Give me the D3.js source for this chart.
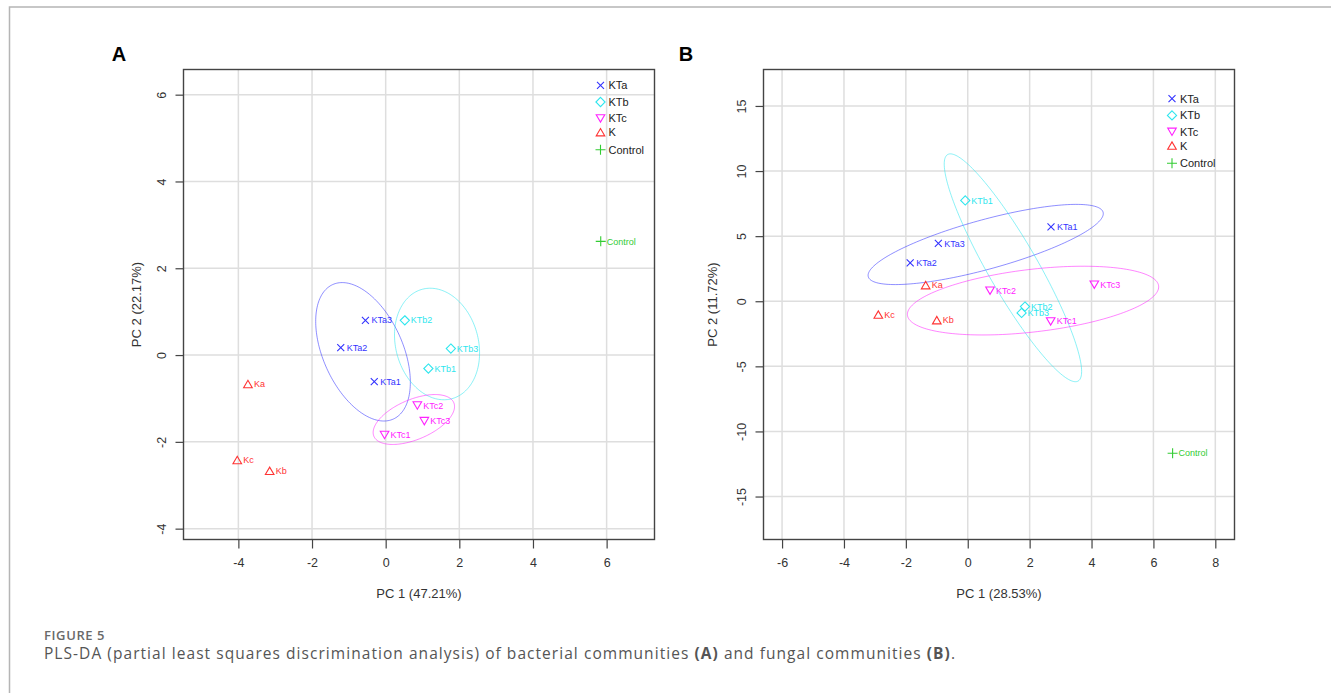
<!DOCTYPE html>
<html>
<head>
<meta charset="utf-8">
<script src="https://cdn.jsdelivr.net/npm/d3@7"></script>
<style>
  body { margin: 0; background: #fff; }
  svg { display: block; font-family: "Liberation Sans", Arial, sans-serif; }
</style>
</head>
<body>
<script>
// groups and colours
var groups = ["KTa", "KTb", "KTc", "K", "Control"];
var groupColors = ["#3333ff", "#2ee6ee", "#ff22ff", "#ff3333", "#33cc33"];

// samples (same order in both panels)
var sampleNames = ["KTa1", "KTa2", "KTa3", "KTb1", "KTb2", "KTb3", "KTc1", "KTc2", "KTc3", "Ka", "Kb", "Kc", "Control"];
var sampleGroup = ["KTa", "KTa", "KTa", "KTb", "KTb", "KTb", "KTc", "KTc", "KTc", "K", "K", "K", "Control"];

// panel A: bacterial communities
var pc1A = [-0.31, -1.22, -0.55, 1.16, 0.52, 1.77, -0.03, 0.86, 1.05, -3.74, -3.15, -4.03, 5.84];
var pc2A = [-0.61, 0.17, 0.80, -0.31, 0.80, 0.15, -1.84, -1.16, -1.52, -0.67, -2.67, -2.42, 2.62];
var xTicksA = [-4, -2, 0, 2, 4, 6];
var yTicksA = [-4, -2, 0, 2, 4, 6];

// panel B: fungal communities
var pc1B = [2.69, -1.86, -0.95, -0.08, 1.85, 1.74, 2.68, 0.72, 4.09, -1.36, -1.00, -2.89, 6.62];
var pc2B = [5.72, 2.95, 4.44, 7.74, -0.41, -0.90, -1.54, 0.82, 1.28, 1.23, -1.46, -1.03, -11.67];
var xTicksB = [-6, -4, -2, 0, 2, 4, 6, 8];
var yTicksB = [-15, -10, -5, 0, 5, 10, 15];

// confidence ellipses (KTa, KTb, KTc): centre, half extents, correlation
var ellGroups = ["KTa", "KTb", "KTc"];
var ellCxA = [-0.615, 1.395, 0.765], ellCyA = [0.075, 0.255, -1.485];
var ellHxA = [1.285, 1.155, 1.105], ellHyA = [1.595, 1.285, 0.575];
var ellRA = [-0.44, -0.16, 0.52];
var ellCxB = [0.58, 1.46, 2.11], ellCyB = [4.36, 2.57, 0.05];
var ellHxB = [3.80, 2.22, 4.06], ellHyB = [3.08, 8.75, 2.64];
var ellRB = [0.77, -0.91, 0.40];

var W = 1331, H = 693;
var color = d3.scaleOrdinal().domain(groups).range(groupColors);

var svg = d3.select("body").append("svg")
    .attr("width", W)
    .attr("height", H);

svg.append("rect").attr("width", W).attr("height", H).attr("fill", "#fff");

// page frame
svg.append("path")
    .attr("d", "M9.5,693V7H1331")
    .attr("fill", "none")
    .attr("stroke", "#b5b5b5")
    .attr("stroke-width", 1.5);

function marker(g, grp, col) {
  var s = g.append("path")
      .attr("fill", "none")
      .attr("stroke", col)
      .attr("stroke-width", 1.1);
  if (grp == "KTa") s.attr("d", "M-3.5,-3.5L3.5,3.5M-3.5,3.5L3.5,-3.5");
  else if (grp == "KTb") s.attr("d", "M0,-4.6L4.6,0L0,4.6L-4.6,0Z");
  else if (grp == "KTc") s.attr("d", "M-4.3,-3.6L4.3,-3.6L0,3.8Z");
  else if (grp == "K") s.attr("d", "M-4.3,3.6L4.3,3.6L0,-3.8Z");
  else s.attr("d", "M-5,0L5,0M0,-5L0,5");
}

function panel(opt) {
  var x = d3.scaleLinear().domain(opt.xDomain).range([opt.left, opt.right]);
  var y = d3.scaleLinear().domain(opt.yDomain).range([opt.bottom, opt.top]);
  var g = svg.append("g");

  // grid
  g.append("g").selectAll("line").data(opt.xTicks).join("line")
      .attr("x1", d => x(d)).attr("x2", d => x(d))
      .attr("y1", opt.top).attr("y2", opt.bottom)
      .attr("stroke", "#dedede").attr("stroke-width", 1.5);
  g.append("g").selectAll("line").data(opt.yTicks).join("line")
      .attr("y1", d => y(d)).attr("y2", d => y(d))
      .attr("x1", opt.left).attr("x2", opt.right)
      .attr("stroke", "#dedede").attr("stroke-width", 1.5);

  // axes (plain hyphen minus, as in the R output)
  var fmt = d => String(d);
  var xa = g.append("g")
      .attr("transform", `translate(0,${opt.bottom})`)
      .call(d3.axisBottom(x).tickValues(opt.xTicks).tickSize(9).tickPadding(10).tickFormat(fmt));
  var ya = g.append("g")
      .attr("transform", `translate(${opt.left},0)`)
      .call(d3.axisLeft(y).tickValues(opt.yTicks).tickSize(8).tickFormat(fmt));
  [xa, ya].forEach(a => {
    a.select(".domain").remove();
    a.selectAll("line").attr("stroke", "#444").attr("stroke-width", 1.2);
    a.selectAll("text").attr("fill", "#333").style("font-size", "12.5px")
        .style("font-family", "'Liberation Sans', Arial, sans-serif");
  });
  ya.selectAll("text")
      .attr("x", null).attr("dy", null)
      .attr("text-anchor", "middle")
      .attr("transform", "translate(-21.5,0) rotate(-90)")
      .attr("dy", "0.35em");

  // box
  g.append("rect")
      .attr("x", opt.left).attr("y", opt.top)
      .attr("width", opt.right - opt.left).attr("height", opt.bottom - opt.top)
      .attr("fill", "none").attr("stroke", "#444").attr("stroke-width", 1.4);

  // ellipses
  var line = d3.line().curve(d3.curveLinearClosed);
  var ts = d3.range(0, 2 * Math.PI, Math.PI / 90);
  ellGroups.forEach(function(grp, i) {
    var cx = opt.eCx[i], cy = opt.eCy[i], hx = opt.eHx[i], hy = opt.eHy[i], r = opt.eR[i];
    var pts = ts.map(t => [
      x(cx + hx * Math.cos(t)),
      y(cy + hy * (r * Math.cos(t) + Math.sqrt(1 - r * r) * Math.sin(t)))
    ]);
    g.append("path")
        .attr("d", line(pts))
        .attr("fill", "none")
        .attr("stroke", color(grp))
        .attr("stroke-opacity", 0.55)
        .attr("stroke-width", 1);
  });

  // points
  var pts = g.append("g").selectAll("g").data(sampleNames).join("g")
      .attr("transform", (d, i) => `translate(${x(opt.pc1[i])},${y(opt.pc2[i])})`);
  pts.each(function(d, i) {
    marker(d3.select(this), sampleGroup[i], color(sampleGroup[i]));
  });
  pts.append("text")
      .attr("x", 6)
      .attr("dy", "0.35em")
      .attr("fill", (d, i) => color(sampleGroup[i]))
      .style("font-size", "9px")
      .text(d => d);

  // legend
  var offs = [0, 16.7, 33, 47, 64.5];
  var lg = g.append("g").selectAll("g").data(groups).join("g")
      .attr("transform", (d, i) => `translate(${opt.legX},${opt.legY + offs[i]})`);
  lg.each(function(d) { marker(d3.select(this), d, color(d)); });
  lg.append("text")
      .attr("x", 8)
      .attr("dy", "0.36em")
      .attr("fill", "#222")
      .style("font-size", "11px")
      .text(d => d);

  // titles
  g.append("text")
      .attr("x", (opt.left + opt.right) / 2).attr("y", 598)
      .attr("text-anchor", "middle")
      .attr("fill", "#333")
      .style("font-size", "13px")
      .text(opt.xTitle);
  g.append("text")
      .attr("transform", `translate(${opt.yTitleX},${(opt.top + opt.bottom) / 2}) rotate(-90)`)
      .attr("text-anchor", "middle")
      .attr("fill", "#333")
      .style("font-size", "13px")
      .text(opt.yTitle);
  g.append("text")
      .attr("x", opt.letterX).attr("y", 61)
      .attr("text-anchor", "middle")
      .style("font-size", "20px")
      .style("font-weight", "bold")
      .text(opt.letter);
}

panel({
  left: 183.5, right: 654.5, top: 69.5, bottom: 539.5,
  xDomain: [-5.49, 7.30], yDomain: [-4.25, 6.58],
  xTicks: xTicksA, yTicks: yTicksA,
  pc1: pc1A, pc2: pc2A,
  eCx: ellCxA, eCy: ellCyA, eHx: ellHxA, eHy: ellHyA, eR: ellRA,
  legX: 600.5, legY: 85.3,
  xTitle: "PC 1 (47.21%)", yTitle: "PC 2 (22.17%)", yTitleX: 141,
  letter: "A", letterX: 119
});

panel({
  left: 763.5, right: 1234.5, top: 69.5, bottom: 539.5,
  xDomain: [-6.6, 8.62], yDomain: [-18.3, 17.8],
  xTicks: xTicksB, yTicks: yTicksB,
  pc1: pc1B, pc2: pc2B,
  eCx: ellCxB, eCy: ellCyB, eHx: ellHxB, eHy: ellHyB, eR: ellRB,
  legX: 1172, legY: 98.7,
  xTitle: "PC 1 (28.53%)", yTitle: "PC 2 (11.72%)", yTitleX: 717,
  letter: "B", letterX: 686
});

// caption
svg.append("text")
    .attr("x", 44).attr("y", 639.5)
    .attr("fill", "#6a6a6a")
    .style("font-family", "'Open Sans', sans-serif")
    .style("font-size", "13px")
    .style("font-weight", "600")
    .style("letter-spacing", "0.6px")
    .text("FIGURE 5");

var cap = svg.append("text")
    .attr("x", 44).attr("y", 659)
    .attr("fill", "#555")
    .style("font-family", "'Open Sans', sans-serif")
    .style("font-size", "15.5px")
    .style("letter-spacing", "1.05px");
cap.append("tspan").text("PLS-DA (partial least squares discrimination analysis) of bacterial communities ");
cap.append("tspan").style("font-weight", "bold").text("(A)");
cap.append("tspan").text(" and fungal communities ");
cap.append("tspan").style("font-weight", "bold").text("(B)");
cap.append("tspan").text(".");
</script>
</body>
</html>
